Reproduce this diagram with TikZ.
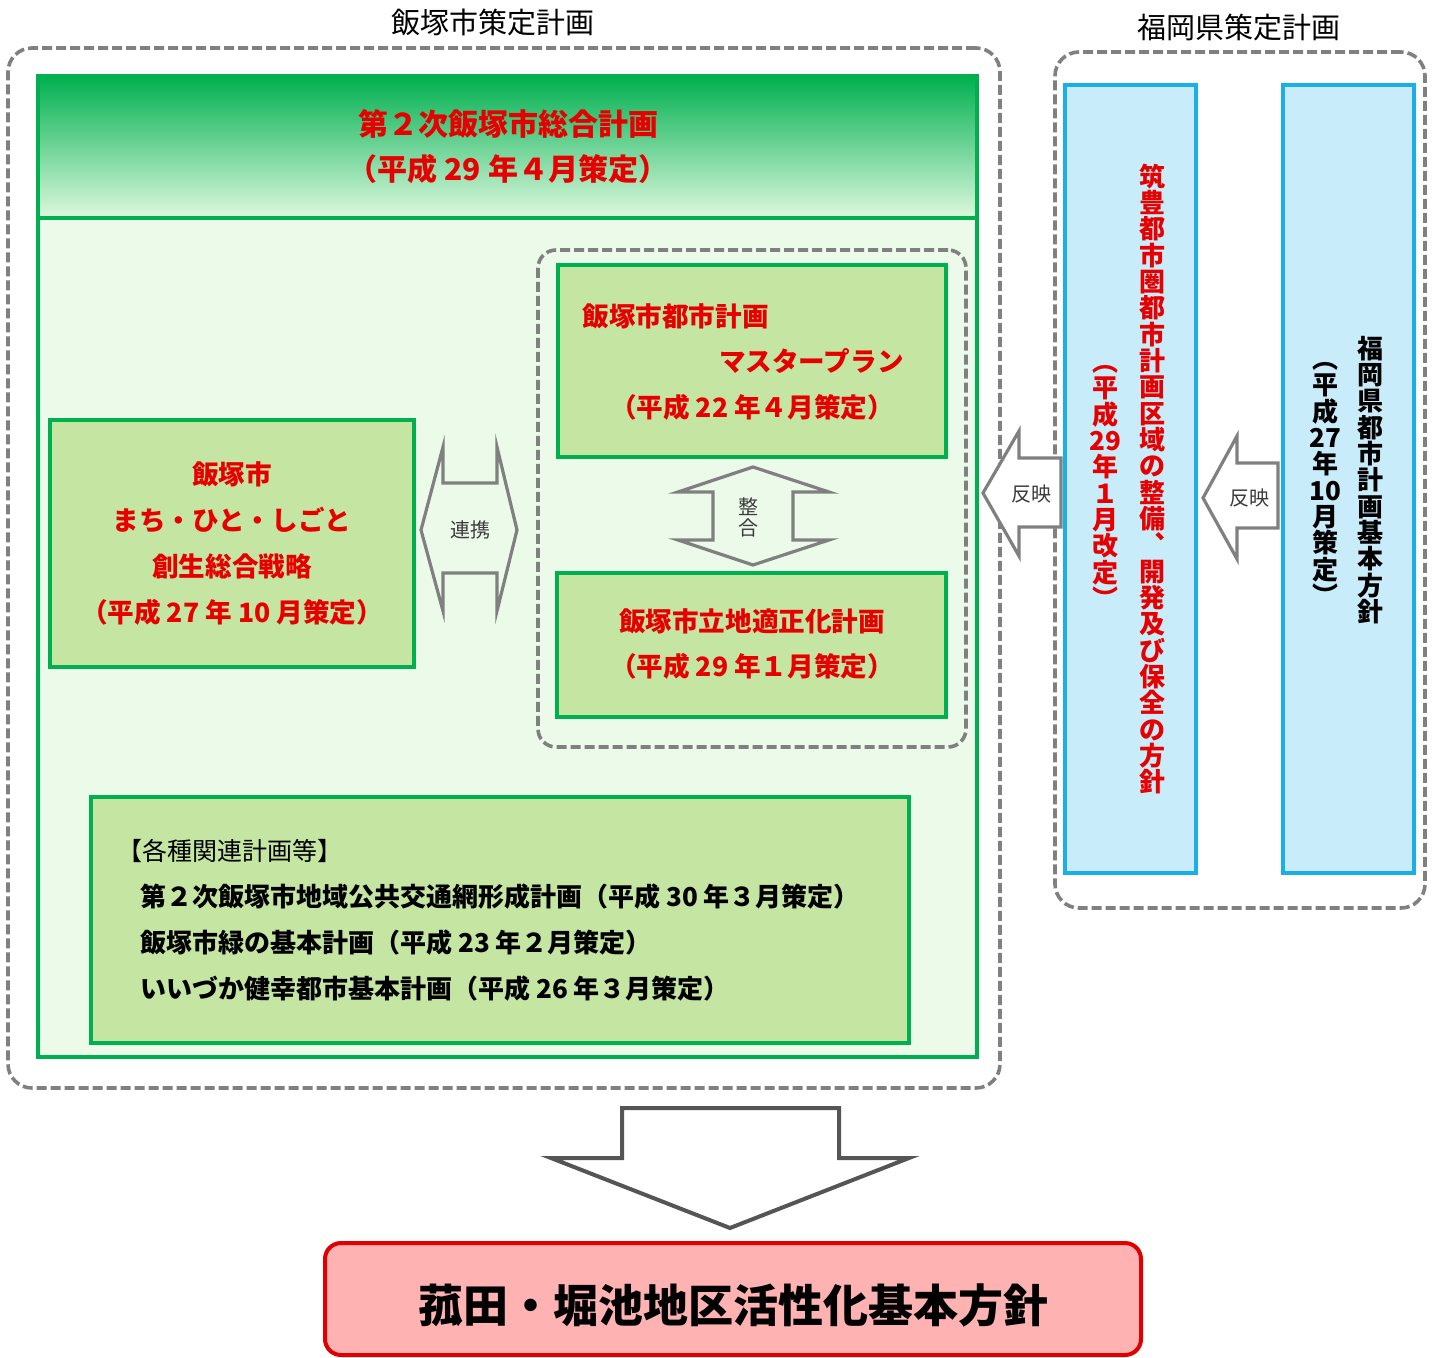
\documentclass[tikz,border=0pt]{standalone}
\usepackage{fontspec}
\setmainfont{Noto Sans CJK JP}
\usetikzlibrary{fit}
\definecolor{dgray}{RGB}{128,128,128}
\definecolor{gborder}{RGB}{0,176,80}
\definecolor{gfill}{RGB}{196,230,162}
\definecolor{palebg}{RGB}{236,250,234}
\definecolor{hdrtop}{RGB}{0,176,80}
\definecolor{hdrbot}{RGB}{222,248,222}
\definecolor{cborder}{RGB}{26,175,230}
\definecolor{cfill}{RGB}{200,236,250}
\definecolor{tred}{RGB}{230,0,0}
\definecolor{pinkfill}{RGB}{255,178,178}
\definecolor{pinkborder}{RGB}{224,0,0}
\definecolor{arrgray}{RGB}{128,128,128}
\definecolor{arrdark}{RGB}{85,85,85}
\definecolor{lbltxt}{RGB}{60,60,60}
\tikzset{
  dashbox/.style={draw=dgray, line width=1.8pt, dash pattern=on 5pt off 2pt, rounded corners=12pt, inner sep=0pt},
  gbox/.style={draw=gborder, fill=gfill, line width=2pt, inner sep=0pt},
  bluebox/.style={draw=cborder, fill=cfill, line width=2.4pt, inner sep=0pt},
  rtxt/.style={text=tred, align=center, inner sep=0pt, font=\bfseries\fontsize{13.3}{23}\selectfont},
  ktxt/.style={text=black, align=left, inner sep=0pt, font=\bfseries\fontsize{13}{23}\selectfont},
  vtxt/.style={align=center, inner sep=0pt, font=\bfseries\fontsize{13}{13.17}\selectfont},
  lbl/.style={text=lbltxt, align=center, inner sep=0pt, font=\fontsize{10}{10.5}\selectfont},
  blockarrow/.style={draw=arrgray, line width=1.6pt},
  ttl/.style={inner sep=0pt, font=\fontsize{14.5}{16}\selectfont}
}
\begin{document}
\begin{tikzpicture}[x=0.5pt,y=-0.5pt]
\useasboundingbox (0,0) rectangle (1434,1358);
\fill[white] (0,0) rectangle (1434,1358);

% titles
\node[ttl] (t1) at (493,22) {飯塚市策定計画};
\node[ttl] (t2) at (1239,28) {福岡県策定計画};

% group frames
\node[dashbox, fit={(8,48) (1000,1088)}] (cityg) {};
\node[dashbox, fit={(1055,52) (1425,908)}] (prefg) {};

% main plan
\node[draw=gborder, line width=2pt, fill=palebg, inner sep=0pt, fit={(38,76) (977,1057)}] (main) {};
\node[draw=gborder, line width=2.4pt, inner sep=0pt, top color=hdrtop, bottom color=hdrbot, fit={(38,76) (977,218)}] (hdr) {};
\node[rtxt, font=\bfseries\fontsize{15}{22.5}\selectfont] (hdrtext) at (508,146.5) {第２次飯塚市総合計画\\（平成 29 年４月策定）};

% strategy box
\node[gbox, fit={(50,420) (414,667)}] (strat) {};
\node[rtxt] (strattext) at (232,543.5) {飯塚市\\まち・ひと・しごと\\創生総合戦略\\（平成 27 年 10 月策定）};

% urban planning group
\node[dashbox, rounded corners=9pt, fit={(538,250) (966,747)}] (urbang) {};
\node[gbox, fit={(558,265) (946,457)}] (mp) {};
\node[rtxt, anchor=west] (mp1) at (582,316) {飯塚市都市計画};
\node[rtxt, anchor=east] (mp2) at (904,361) {マスタープラン};
\node[rtxt] (mp3) at (752,407) {（平成 22 年４月策定）};

\node[gbox, fit={(557,573) (946,717)}] (rt) {};
\node[rtxt, font=\bfseries\fontsize{13.3}{22.5}\selectfont] (rttext) at (752,644.5) {飯塚市立地適正化計画\\（平成 29 年１月策定）};

% related plans
\node[gbox, fit={(91,797) (909,1043)}] (rel) {};
\node[inner sep=0pt, anchor=west, font=\fontsize{12.5}{14}\selectfont] (relhead) at (117,851) {【各種関連計画等】};
\node[ktxt, anchor=west] (rel1) at (140,897) {第２次飯塚市地域公共交通網形成計画（平成 30 年３月策定）};
\node[ktxt, anchor=west] (rel2) at (140,943) {飯塚市緑の基本計画（平成 23 年２月策定）};
\node[ktxt, anchor=west] (rel3) at (140,989) {いいづか健幸都市基本計画（平成 26 年３月策定）};

% prefecture plans
\node[bluebox, fit={(1065,85) (1196,873)}] (chikuho) {};
\node[bluebox, fit={(1283,85) (1414,873)}] (fkpref) {};
\node[vtxt, text=tred] (ch1) at (1152,479) {筑\\豊\\都\\市\\圏\\都\\市\\計\\画\\区\\域\\の\\整\\備\\︑\\開\\発\\及\\び\\保\\全\\の\\方\\針};
\node[vtxt, text=tred] (ch2) at (1105,487) {︵\\平\\成\\29\\年\\１\\月\\改\\定\\︶};
\node[vtxt, text=black] (fk1) at (1370,480) {福\\岡\\県\\都\\市\\計\\画\\基\\本\\方\\針};
\node[vtxt, text=black] (fk2) at (1325,484) {︵\\平\\成\\27\\年\\10\\月\\策\\定\\︶};

% 連携 arrow
\draw[blockarrow, fill=palebg] (443,447) -- (443,483) -- (497,483) -- (497,447) -- (517,530) -- (497,611) -- (497,573) -- (443,573) -- (443,611) -- (421,530) -- cycle;
\node[lbl] (renkei) at (470,530) {連携};

% 整合 arrow
\draw[blockarrow, fill=palebg] (753,467) -- (829,492) -- (793,492) -- (793,540) -- (829,540) -- (753,565) -- (678,540) -- (713,540) -- (713,492) -- (678,492) -- cycle;
\node[lbl] (seigo) at (748,517) {整\\合};

% 反映 arrows
\draw[blockarrow, fill=white] (983,493) -- (1019,431) -- (1019,458) -- (1061,458) -- (1061,527) -- (1019,527) -- (1019,556) -- cycle;
\node[lbl] (hanei1) at (1031,494) {反映};
\draw[blockarrow, fill=white] (1203,498) -- (1237,436) -- (1237,463) -- (1278,463) -- (1278,528) -- (1237,528) -- (1237,559) -- cycle;
\node[lbl] (hanei2) at (1249,498) {反映};

% down arrow
\draw[draw=arrdark, line width=2pt, fill=white] (622,1108) -- (839,1108) -- (839,1158) -- (909,1158) -- (730,1228) -- (551,1158) -- (622,1158) -- cycle;

% result
\node[draw=pinkborder, fill=pinkfill, line width=2pt, rounded corners=8pt, inner sep=0pt, fit={(325,1243) (1141,1355)}] (policy) {};
\node[inner sep=0pt, font=\bfseries\fontsize{22.5}{24}\selectfont] (policytext) at (733,1305) {菰田・堀池地区活性化基本方針};
\end{tikzpicture}
\end{document}
